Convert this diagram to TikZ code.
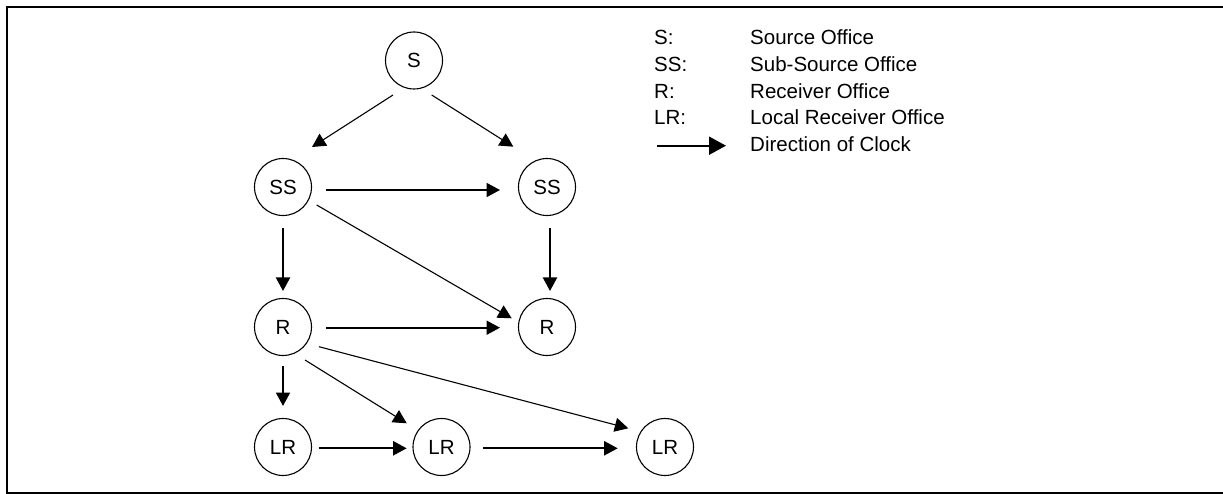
\documentclass[tikz,border=0pt]{standalone}
\usepackage{fontspec}
\setmainfont{Liberation Sans}
\usetikzlibrary{arrows.meta,calc}
\begin{document}
\begin{tikzpicture}[x=1pt,y=-1pt,
  office/.style={circle,draw,line width=1.1pt,minimum size=57pt,inner sep=0pt,
    font=\fontsize{20.5}{24}\selectfont},
  legtext/.style={anchor=base west,inner sep=0pt,font=\fontsize{20.5}{24}\selectfont},
  straightarr/.style={line width=2pt,-{Triangle[length=13.5pt,width=14pt]}},
  diagarr/.style={line width=1.1pt,-{Triangle[length=13.5pt,width=14pt]}},
  legarr/.style={line width=2pt,-{Triangle[length=17pt,width=18pt]}}]
\useasboundingbox (0,0) rectangle (1223,494);
\draw[line width=2pt] (7,7) rectangle (1240,493);

% nodes
\node[office] (S)   at (414,60.5) {S};
\node[office] (SSa) at (283,187) {SS};
\node[office] (SSb) at (547,187) {SS};
\node[office] (Ra)  at (283,327) {R};
\node[office] (Rb)  at (547,327) {R};
\node[office] (LRa) at (283,447) {LR};
\node[office] (LRb) at (441.5,447) {LR};
\node[office] (LRc) at (665,447) {LR};

% connectors
\draw[diagarr] ($(S)+(-21,34.5)$) -- ($(SSa)+(29,-40)$);
\draw[diagarr] ($(S)+(17.7,34.5)$) -- ($(SSb)+(-33.7,-40.3)$);
\draw[straightarr] ($(SSa)+(43,3)$) -- ($(SSb)+(-47,3)$);
\draw[diagarr] ($(SSa)+(33.7,18)$) -- ($(Rb)+(-35.3,-8.7)$);
\draw[straightarr] ($(SSa)+(0,41.3)$) -- ($(Ra)+(0,-36)$);
\draw[straightarr] ($(SSb)+(3,41)$) -- ($(Rb)+(3,-36)$);
\draw[straightarr] ($(Ra)+(43,0.7)$) -- ($(Rb)+(-47,0.7)$);
\draw[straightarr] ($(Ra)+(0,39)$) -- ($(LRa)+(0,-41)$);
\draw[diagarr] ($(Ra)+(22,33)$) -- ($(LRb)+(-34.8,-23.7)$);
\draw[diagarr] ($(Ra)+(36,19.7)$) -- ($(LRc)+(-36.7,-18.7)$);
\draw[straightarr] ($(LRa)+(36,1.3)$) -- ($(LRb)+(-34.8,1.3)$);
\draw[straightarr] ($(LRb)+(41.8,1.3)$) -- ($(LRc)+(-47.3,1.3)$);

% legend
\node[legtext] (k1) at (654,45) {S:};
\node[legtext] (v1) at (750,45) {Source Office};
\node[legtext] (k2) at (654,71.7) {SS:};
\node[legtext] (v2) at (750,71.7) {Sub-Source Office};
\node[legtext] (k3) at (654,98.3) {R:};
\node[legtext] (v3) at (750,98.3) {Receiver Office};
\node[legtext] (k4) at (654,125) {LR:};
\node[legtext] (v4) at (750,125) {Local Receiver Office};
\node[legtext] (v5) at (750,151.7) {Direction of Clock};
\coordinate (la) at (657,145.7);
\coordinate (lb) at (726,145.7);
\draw[legarr] (la) -- (lb);
\end{tikzpicture}
\end{document}
